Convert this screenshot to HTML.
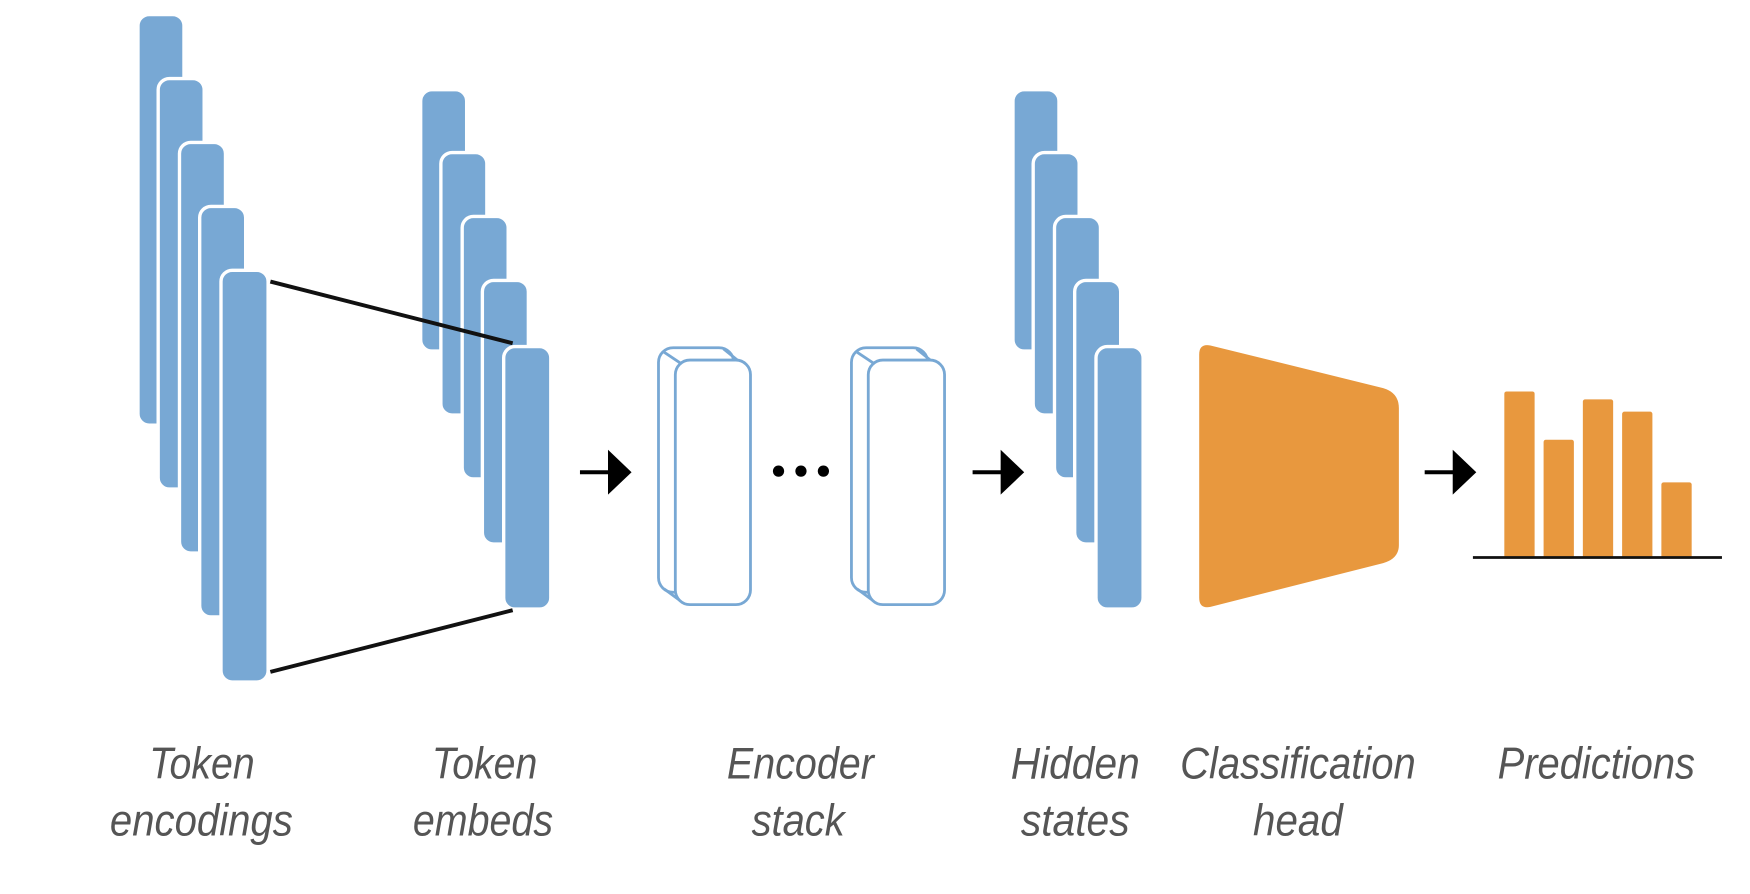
<!DOCTYPE html>
<html><head><style>html,body{margin:0;padding:0;background:#fff}svg{display:block}</style></head>
<body>
<svg width="1750" height="894" viewBox="0 0 1560 797" preserveAspectRatio="none" xmlns="http://www.w3.org/2000/svg">
<g transform="translate(-3,-2)">
<g fill="#78A8D4" stroke="#fff" stroke-width="3">
<rect x="126" y="15" width="41" height="366" rx="10"/>
<rect x="144" y="72" width="41" height="366" rx="10"/>
<rect x="163" y="129" width="41" height="366" rx="10"/>
<rect x="181" y="186" width="41" height="366" rx="10"/>
<rect x="200" y="243" width="42" height="367" rx="10"/>
<rect x="378" y="82" width="41" height="233" rx="10"/>
<rect x="396" y="138" width="41" height="234" rx="10"/>
<rect x="415" y="195" width="41" height="234" rx="10"/>
<rect x="433" y="252" width="41" height="235" rx="10"/>
<rect x="452" y="311" width="42" height="234" rx="10"/>
<rect x="906" y="82" width="41" height="233" rx="10"/>
<rect x="924" y="138" width="41" height="234" rx="10"/>
<rect x="943" y="195" width="41" height="234" rx="10"/>
<rect x="961" y="252" width="41" height="235" rx="10"/>
<rect x="980" y="311" width="42" height="234" rx="10"/>
</g>
<g stroke="#111" stroke-width="3.5">
<line x1="244" y1="253" x2="460" y2="308"/>
<line x1="244" y1="601" x2="460" y2="546"/>
</g>
<g fill="#000" stroke="#000" stroke-width="3.5">
<line x1="520" y1="423" x2="548" y2="423"/><polygon points="545,403 566,423 545,443" stroke="none"/>
<line x1="870" y1="423" x2="898" y2="423"/><polygon points="895,403 916,423 895,443" stroke="none"/>
<line x1="1273" y1="423" x2="1301" y2="423"/><polygon points="1298,403 1319,423 1298,443" stroke="none"/>
</g>
<g fill="#fff" stroke="#78A8D4" stroke-width="2.5" stroke-linejoin="round">
<rect x="590" y="312" width="67" height="218" rx="13"/>
<line x1="595" y1="316" x2="610" y2="326"/>
<line x1="648" y1="313" x2="664" y2="326"/>
<line x1="595" y1="527" x2="610" y2="538"/>
<rect x="605" y="323" width="67" height="218" rx="13"/>
<rect x="762" y="312" width="68" height="218" rx="13"/>
<line x1="767" y1="316" x2="782" y2="326"/>
<line x1="820" y1="313" x2="836" y2="326"/>
<line x1="767" y1="527" x2="782" y2="538"/>
<rect x="777" y="323" width="68" height="218" rx="13"/>
</g>
<g fill="#000"><circle cx="697" cy="422" r="5"/><circle cx="717" cy="422" r="5"/><circle cx="737" cy="422" r="5"/></g>
<path d="M1082,310 L1236,348 Q1250,352 1250,366 L1250,488 Q1250,500 1236,504 L1082,543 Q1072,545 1072,535 L1072,318 Q1072,308 1082,310 Z" fill="#E8983E"/>
<g fill="#E8983E">
<rect x="1344" y="351" width="27" height="149" rx="2"/>
<rect x="1379" y="394" width="27" height="106" rx="2"/>
<rect x="1414" y="358" width="27" height="142" rx="2"/>
<rect x="1449" y="369" width="27" height="131" rx="2"/>
<rect x="1484" y="432" width="27" height="68" rx="2"/>
</g>
<line x1="1316" y1="499" x2="1538" y2="499" stroke="#111" stroke-width="2.5"/>
</g>
<g font-family="Liberation Sans, sans-serif" font-style="italic" font-size="40" fill="#555" transform="translate(-5,-4)">
<text x="138" y="698" textLength="94" lengthAdjust="spacingAndGlyphs">Token</text>
<text x="103" y="749" textLength="163" lengthAdjust="spacingAndGlyphs">encodings</text>
<text x="390" y="698" textLength="94" lengthAdjust="spacingAndGlyphs">Token</text>
<text x="373" y="749" textLength="125" lengthAdjust="spacingAndGlyphs">embeds</text>
<text x="653" y="698" textLength="131" lengthAdjust="spacingAndGlyphs">Encoder</text>
<text x="675" y="749" textLength="83" lengthAdjust="spacingAndGlyphs">stack</text>
<text x="906" y="698" textLength="115" lengthAdjust="spacingAndGlyphs">Hidden</text>
<text x="915" y="749" textLength="97" lengthAdjust="spacingAndGlyphs">states</text>
<text x="1057" y="698" textLength="210" lengthAdjust="spacingAndGlyphs">Classification</text>
<text x="1122" y="749" textLength="80" lengthAdjust="spacingAndGlyphs">head</text>
<text x="1340" y="698" textLength="176" lengthAdjust="spacingAndGlyphs">Predictions</text>
</g>
</svg>
</body></html>
